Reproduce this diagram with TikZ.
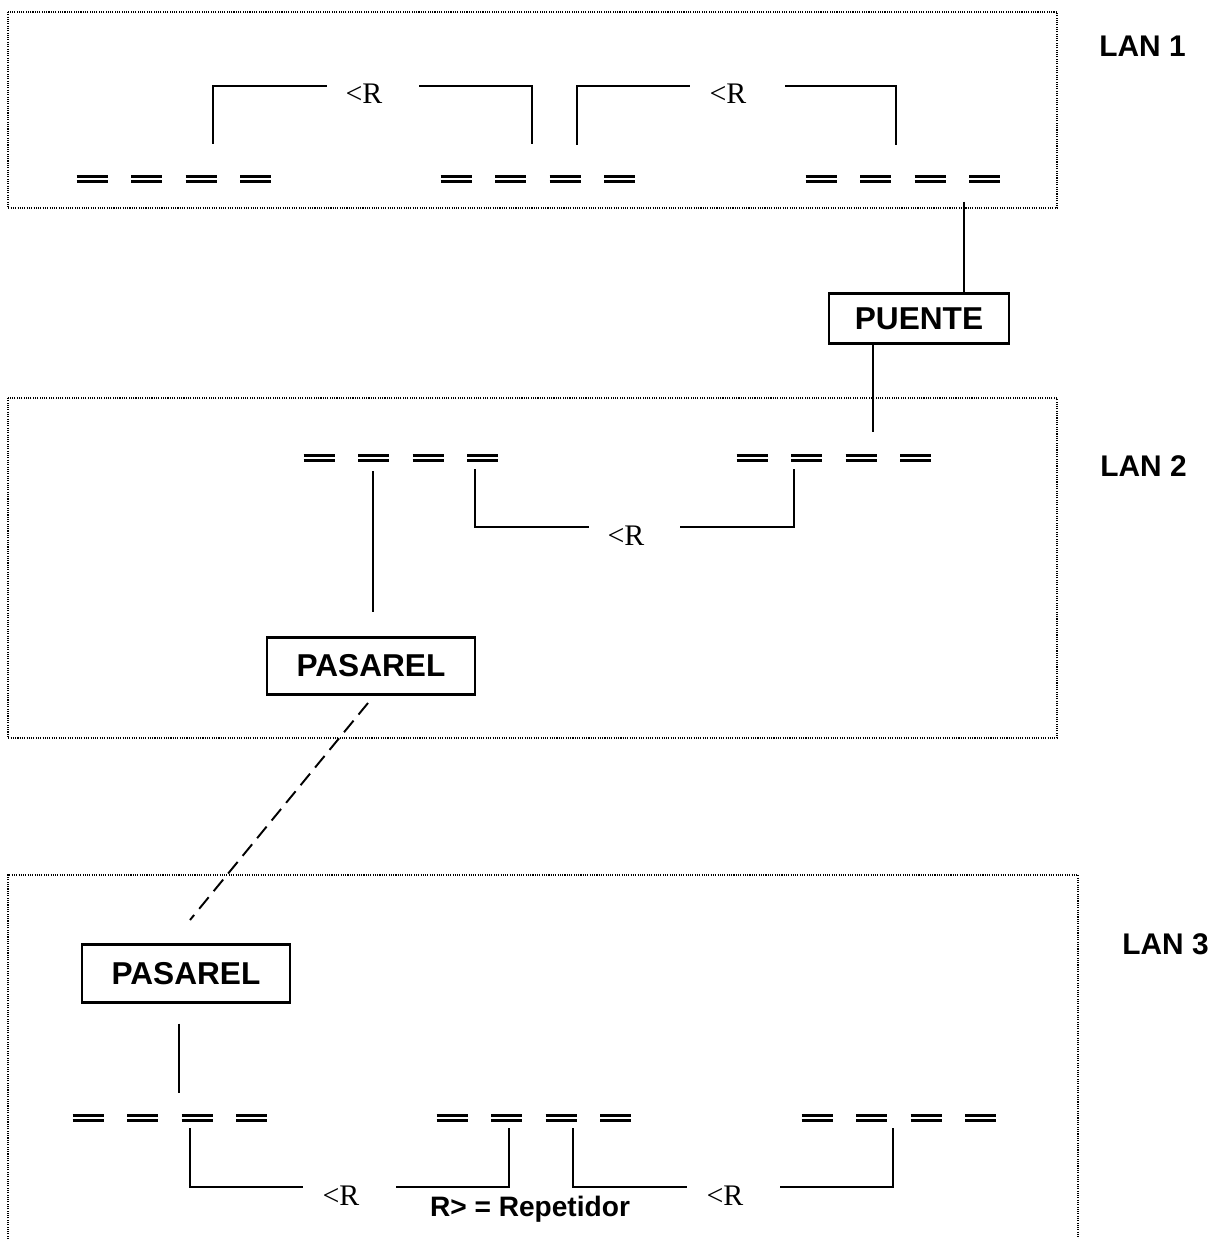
\documentclass[tikz,border=0pt]{standalone}
\usepackage{fontspec}
\setmainfont{Liberation Serif}
\setsansfont{Liberation Sans}
\usepackage{tikz}
\usetikzlibrary{calc}

\tikzset{
	lanbox/.style={line width=0.6pt, draw=black, dash pattern=on 0.6pt off 0.7pt},
	wire/.style={line width=1.3pt, draw=black},
	bar/.style={line width=1.5pt, draw=black},
	devbox/.style={draw=black, line width=1.3pt, inner sep=0pt,
		font=\sffamily\bfseries\fontsize{18}{21}\selectfont},
	lanlabel/.style={inner sep=0pt, anchor=base west,
		font=\sffamily\bfseries\fontsize{17}{20}\selectfont},
	replabel/.style={inner sep=0pt, anchor=base, font=\fontsize{17}{20}\selectfont}
}

\begin{document}
\begin{tikzpicture}[x=0.02cm, y=-0.02cm]
	\useasboundingbox (0,0) rectangle (1213,1239);

	\pgfmathsetmacro{\dx}{54.6}

	% LAN
	\draw[lanbox] (8,12) rectangle (1057,208);
	\draw[lanbox] (8,398) rectangle (1057,738);
	\draw[lanbox] (8,1239) -- (8,875) -- (1078,875) -- (1078,1239);

	\node[lanlabel] (lan1) at (1099,57) {LAN 1};
	\node[lanlabel] (lan2) at (1100,477) {LAN 2};
	\node[lanlabel] (lan3) at (1122,954) {LAN 3};

	% Estaciones
	\begin{scope}[]
	\foreach \x/\y in {92/179, 456/179, 821/179, 319/458, 752/458,
		88/1118, 452/1118, 817/1118}
	{
	\foreach \k in {0,...,3}
	{
	\draw[bar] (\x+\k*\dx-15.5, \y-2.5) -- ++(31,0);
	\draw[bar] (\x+\k*\dx-15.5, \y+2.5) -- ++(31,0);
	}
	}
	\end{scope}

	% Repetidores
	\begin{scope}[]
	\foreach \xl/\yf/\yl/\xa/\xt/\xb/\xr [count=\i] in
		{213/144/86/327/364/419/532, 577/145/86/690/728/785/896,
		475/469/527/589/626/680/794, 190/1128/1187/303/341/396/509,
		573/1128/1187/687/725/780/893}
	{
	\coordinate (rl\i) at (\xl,\yf);
	\coordinate (ra\i) at (\xa,\yl);
	\coordinate (rb\i) at (\xb,\yl);
	\coordinate (rr\i) at (\xr,\yf);
	\node[replabel] (rep\i) at (\xt,\yl+18) {<R};
	\draw[wire] (rl\i) |- (ra\i);
	\draw[wire] (rb\i) -| (rr\i);
	}
	\end{scope}

	% Puente y pasarelas
	\node[devbox, minimum width=3.6cm, minimum height=1.0cm] (puente) at (919,318.5) {PUENTE};
	\node[devbox, minimum width=4.16cm, minimum height=1.14cm] (pasarel2) at (371,666) {PASAREL};
	\node[devbox, minimum width=4.16cm, minimum height=1.16cm] (pasarel3) at (186,973.5) {PASAREL};

	\coordinate[](p1) at (964,202);
	\coordinate[](p2) at (873,432);
	\draw[wire] (p1) -- (p1 |- puente.north);
	\draw[wire] (puente.south -| p2) -- (p2);

	\coordinate[](g2) at (373,471);
	\draw[wire, shorten >=0.48cm] (g2) -- (g2 |- pasarel2.north);

	\coordinate[](d1) at (368,703);
	\coordinate[](d2) at (190,920);
	\draw[wire, line width=1.1pt, dash pattern=on 8.5pt off 4.5pt] (d1) -- (d2);

	\coordinate[](g3) at (179,1093);
	\draw[wire, shorten <=0.4cm] (g3 |- pasarel3.south) -- (g3);

	\node[inner sep=0pt, anchor=base, font=\sffamily\bfseries\fontsize{16}{19}\selectfont]
		(leyenda) at (530,1216) {R> = Repetidor};
\end{tikzpicture}
\end{document}
